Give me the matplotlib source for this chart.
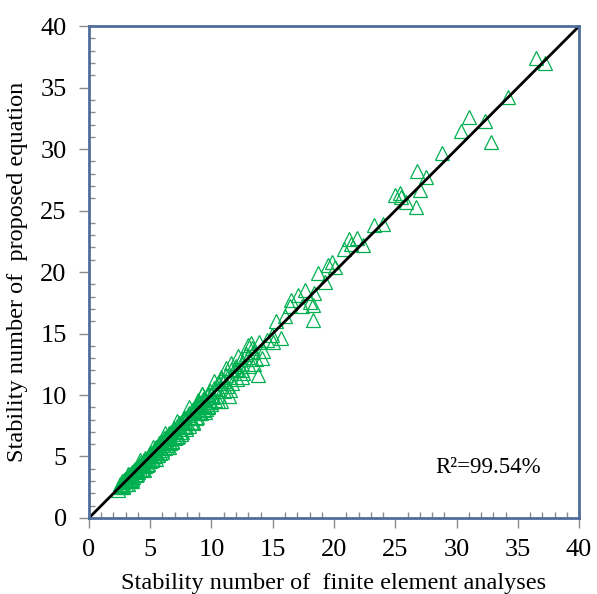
import numpy as np
import matplotlib.pyplot as plt
from matplotlib.ticker import MultipleLocator

# stability numbers, dense band (low range)
fe_low = [2.4, 2.5, 2.6, 2.7, 2.8, 2.9, 3.0, 3.1, 3.2, 3.3, 3.4, 3.5, 3.6, 3.7, 3.8, 3.9,
          4.0, 4.1, 4.2, 4.3, 4.4, 4.5, 4.6, 4.7, 4.8, 4.9, 5.0, 5.1, 5.2, 5.3, 5.4, 5.5,
          5.6, 5.7, 5.8, 5.9, 6.0, 6.1, 6.2, 6.3, 6.4, 6.5, 6.6, 6.7, 6.8, 6.9, 7.0,
          2.6, 3.0, 3.4, 3.8, 4.2, 4.6, 5.0, 5.4, 5.8, 6.2, 6.6, 7.0,
          3.5, 4.5, 5.5, 6.5, 3.2, 4.2, 5.2, 6.2]
eq_low = [2.3, 2.7, 2.5, 3.0, 2.6, 3.1, 2.8, 3.3, 3.0, 3.5, 3.1, 3.7, 3.3, 3.9, 3.5, 4.1,
          3.7, 4.3, 3.9, 4.5, 4.0, 4.7, 4.2, 4.9, 4.4, 5.1, 4.6, 5.3, 4.8, 5.5, 5.0, 5.8,
          5.1, 5.9, 5.3, 6.2, 5.5, 6.3, 5.7, 6.6, 5.9, 6.8, 6.1, 7.0, 6.3, 7.2, 6.5,
          2.6, 3.1, 3.4, 3.9, 4.2, 4.7, 5.0, 5.5, 5.8, 6.3, 6.6, 7.1,
          3.0, 3.9, 4.8, 5.8, 3.6, 4.7, 5.8, 6.9]

# extra points filling the band
fe_band = [2.55, 2.75, 2.95, 3.15, 3.35, 3.55, 3.75, 3.95, 4.15, 4.35, 4.55, 4.75, 4.95,
           5.15, 5.35, 5.55, 5.75, 5.95, 6.15, 6.35, 6.55, 6.75, 6.95, 7.15, 7.35, 7.55,
           7.75, 7.95, 8.15, 8.35, 8.55, 8.75, 8.95, 9.15, 9.35, 9.55, 9.75, 9.95,
           2.8, 3.3, 3.9, 4.4, 4.9, 5.4, 6.0, 6.5, 7.1, 7.7, 8.3, 8.9, 9.4, 10.1]
eq_band = [2.8, 2.5, 3.2, 2.8, 3.6, 3.2, 4.0, 3.6, 4.5, 4.0, 4.9, 4.3, 5.3, 4.7, 5.7, 5.1,
           6.1, 5.4, 6.5, 5.8, 6.9, 6.2, 7.3, 6.6, 7.7, 7.0, 8.1, 7.4, 8.5, 7.8, 8.9,
           8.1, 9.3, 8.5, 9.7, 8.9, 10.1, 9.3,
           2.9, 3.2, 3.8, 4.3, 4.8, 5.3, 5.9, 6.4, 7.0, 7.5, 8.1, 8.6, 9.2, 9.8]

# mid range
fe_mid = [7.2, 7.3, 7.5, 7.6, 7.8, 7.9, 8.1, 8.2, 8.4, 8.5, 8.7, 8.8, 9.0, 9.1, 9.3, 9.4,
          9.6, 9.7, 9.9, 10.0, 10.2, 10.3, 10.5, 10.6, 10.8, 11.0, 11.2, 11.3, 11.6, 11.7,
          12.0, 12.1, 12.4, 12.6, 12.8, 13.1, 13.3, 13.6, 13.9, 14.2,
          7.4, 7.8, 8.2, 8.6, 9.0, 9.5, 10.0, 10.5, 11.0, 11.5, 12.0, 12.5, 13.0,
          7.5, 8.5, 9.5, 10.5, 11.5, 12.5, 13.5, 7.2, 8.2, 9.2, 10.2, 11.2, 12.2, 13.2,
          8.9, 9.2, 9.7, 10.6, 10.8, 10.8, 11.4, 11.6, 12.1, 12.5, 13.0, 13.4, 13.8, 14.1]
eq_mid = [7.5, 6.7, 7.8, 7.0, 8.1, 7.2, 8.4, 7.5, 8.8, 7.8, 9.1, 8.2, 9.4, 8.5, 9.7, 8.8,
          10.0, 9.1, 10.3, 9.4, 10.6, 9.6, 11.0, 9.9, 11.3, 10.3, 11.6, 10.7, 12.0, 11.0,
          12.4, 11.3, 12.9, 11.8, 13.3, 12.4, 13.8, 12.9, 14.3, 13.6,
          7.4, 7.9, 8.2, 8.7, 9.0, 9.6, 10.0, 10.5, 11.1, 11.5, 12.1, 12.5, 13.1,
          6.8, 7.7, 8.6, 9.5, 10.4, 11.5, 12.5, 7.9, 9.0, 10.1, 11.1, 12.2, 13.2, 14.2,
          9.6, 10.1, 9.0, 10.95, 11.5, 9.5, 9.9, 12.6, 12.0, 12.0, 14.1, 13.5, 11.6, 13.0]

# high range, scattered points
fe_high = [14.5, 14.9, 15.0, 15.3, 15.7, 16.0, 16.4, 16.5, 17.1, 17.4, 17.6, 18.0, 18.3,
           18.3, 18.4, 18.7, 19.3, 19.5, 19.8, 20.1, 20.8, 21.2, 21.4, 21.9, 22.4, 23.3,
           24.0, 25.0, 25.4, 25.5, 25.9, 26.7, 27.0, 27.5, 26.8, 28.8, 30.4, 31.0, 32.3,
           32.8, 34.2, 36.5, 37.2]
eq_high = [14.5, 14.9, 14.3, 16.0, 14.6, 16.4, 17.2, 17.7, 18.1, 17.2, 18.5, 17.6, 17.3,
           16.1, 18.3, 19.9, 19.2, 20.6, 20.8, 20.4, 21.9, 22.7, 22.3, 22.8, 22.2, 23.8,
           23.9, 26.3, 26.4, 26.1, 25.7, 25.3, 26.7, 27.7, 28.2, 29.7, 31.5, 32.6, 32.3,
           30.6, 34.2, 37.4, 37.0]

fe_all = fe_low + fe_band + fe_mid + fe_high
eq_all = eq_low + eq_band + eq_mid + eq_high

plt.rcParams['font.family'] = ['Liberation Serif', 'DejaVu Serif']

fig = plt.figure(figsize=(5.97, 5.94), dpi=100)
ax = fig.add_axes([0.149, 0.128, 0.821, 0.828])

ax.plot(fe_all, eq_all, linestyle='none', marker='^', markersize=9.5,
        markerfacecolor='none', markeredgecolor='#00b050', markeredgewidth=0.9)
ax.plot([0, 40], [0, 40], color='black', lw=2)

ax.set_xlim(0, 40)
ax.set_ylim(0, 40)
ax.xaxis.set_major_locator(MultipleLocator(5))
ax.yaxis.set_major_locator(MultipleLocator(5))
ax.xaxis.set_minor_locator(MultipleLocator(1))
ax.yaxis.set_minor_locator(MultipleLocator(1))
ax.tick_params(which='major', direction='out', length=7, width=1, color='#8c8c8c',
               labelsize=19)
ax.tick_params(axis='x', which='major', pad=8)
ax.tick_params(axis='y', which='major', pad=9)
ax.tick_params(which='minor', direction='in', length=4, width=1, color='#8c8c8c')
for s in ax.spines.values():
    s.set_color('#4f6d9a')
    s.set_linewidth(2)

ax.set_xlabel('Stability number of  finite element analyses', fontsize=17.5, labelpad=9)
ax.set_ylabel('Stability number of  proposed equation', fontsize=17.5, labelpad=9)
ax.text(0.706, 0.091, 'R²=99.54%', transform=ax.transAxes, fontsize=16.5)

fig.savefig('out.png', dpi=100)
